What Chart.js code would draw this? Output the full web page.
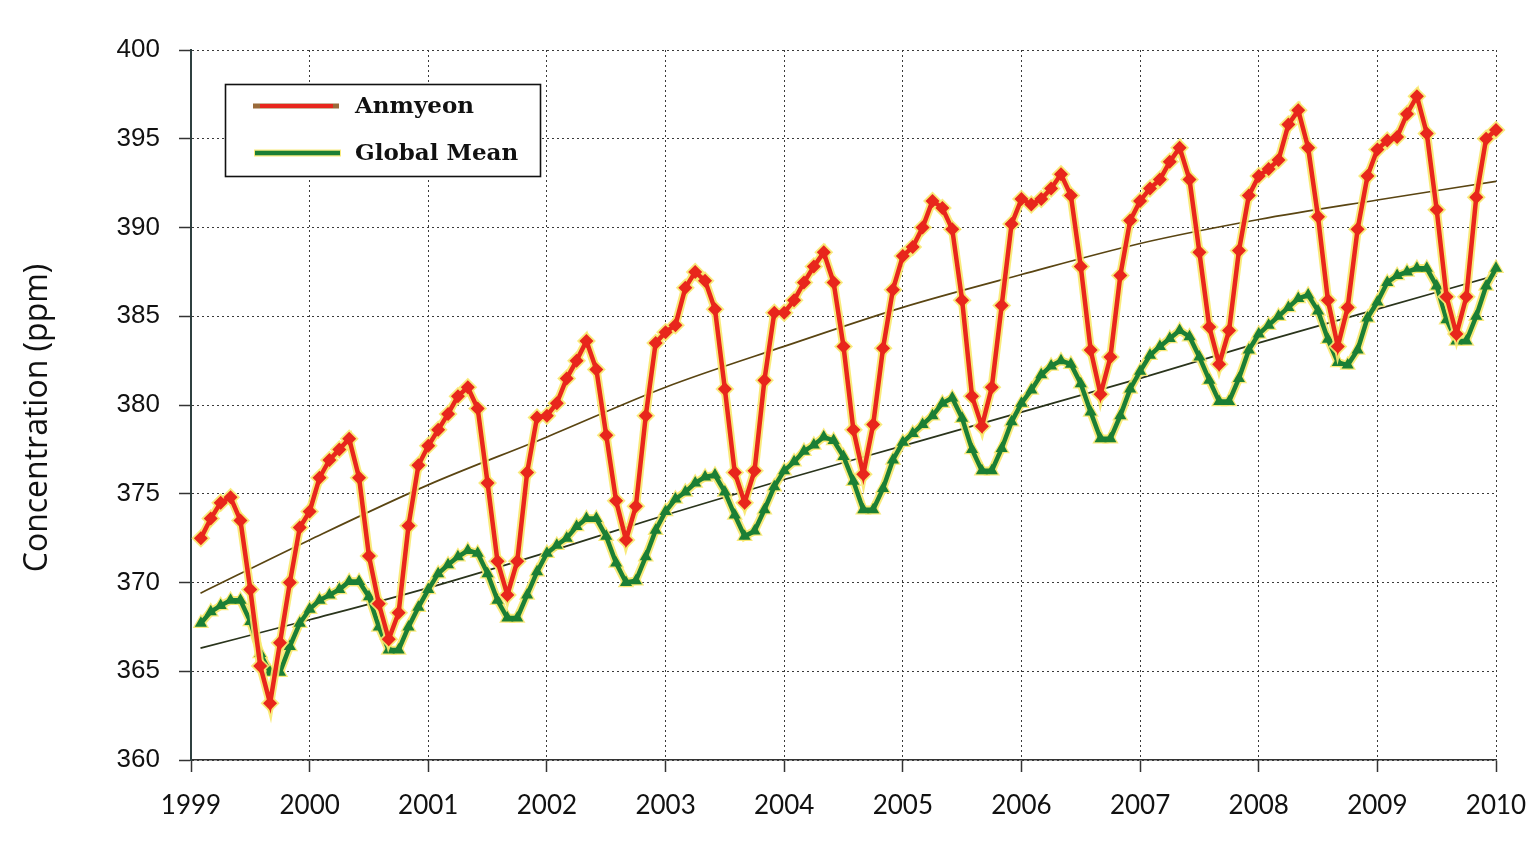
<!DOCTYPE html>
<html><head><meta charset="utf-8">
<script src="https://cdn.jsdelivr.net/npm/chart.js@4.4.1/dist/chart.umd.min.js"></script>
<style>html,body{margin:0;padding:0;background:#fff;overflow:hidden}#wrap{width:1531px;height:846px;position:relative}</style>
</head><body><div id="wrap"><canvas id="c" width="1531" height="846"></canvas></div>
<script>
// ---- data (monthly, Jan 1999 .. Dec 2009) ----
const startYear = 1999;
const yearTicks = [1999, 2000, 2001, 2002, 2003, 2004, 2005, 2006, 2007, 2008, 2009, 2010];
const seriesNames = ['Anmyeon', 'Global Mean'];
const yTitle = 'Concentration (ppm)';

const anmyeon = [
  372.5, 373.6, 374.5, 374.8, 373.5, 369.6, 365.3, 363.2, 366.6, 370.0, 373.1, 374.0,
  375.9, 376.9, 377.5, 378.1, 375.9, 371.5, 368.8, 366.8, 368.3, 373.2, 376.6, 377.7,
  378.6, 379.5, 380.5, 381.0, 379.8, 375.6, 371.2, 369.3, 371.2, 376.2, 379.3, 379.4,
  380.1, 381.5, 382.5, 383.6, 382.0, 378.3, 374.6, 372.4, 374.3, 379.4, 383.5, 384.1,
  384.5, 386.6, 387.5, 387.0, 385.4, 380.9, 376.2, 374.5, 376.3, 381.4, 385.2, 385.2,
  385.9, 386.9, 387.8, 388.6, 386.9, 383.3, 378.6, 376.1, 378.9, 383.2, 386.5, 388.4,
  388.9, 390.0, 391.5, 391.1, 389.9, 385.9, 380.5, 378.8, 381.0, 385.6, 390.2, 391.6,
  391.3, 391.6, 392.2, 393.0, 391.8, 387.8, 383.1, 380.6, 382.7, 387.3, 390.4, 391.5,
  392.2, 392.7, 393.7, 394.5, 392.7, 388.6, 384.4, 382.3, 384.2, 388.7, 391.8, 392.9,
  393.3, 393.8, 395.8, 396.6, 394.5, 390.6, 385.9, 383.3, 385.5, 389.9, 392.9, 394.4,
  394.9, 395.1, 396.4, 397.4, 395.3, 391.0, 386.1, 384.0, 386.1, 391.7, 395.0, 395.5
];
const globalMean = [
  367.7, 368.35, 368.7, 369.0, 369.0, 367.8, 366.0, 364.95, 364.95, 366.4, 367.7, 368.5,
  369.0, 369.3, 369.6, 370.05, 370.05, 369.2, 367.5, 366.2, 366.2, 367.5, 368.6, 369.6,
  370.5, 371.0, 371.45, 371.8, 371.65, 370.5, 369.0, 368.0, 368.0, 369.3, 370.6, 371.65,
  372.1, 372.5, 373.15, 373.6, 373.6, 372.6, 371.1, 370.0, 370.1, 371.45, 372.95, 374.0,
  374.7, 375.1, 375.6, 375.95, 376.05, 375.1, 373.8, 372.6, 372.9, 374.1, 375.4, 376.3,
  376.8, 377.4, 377.75, 378.2, 378.0, 377.1, 375.7, 374.1, 374.1, 375.3, 376.9, 377.9,
  378.4, 378.9, 379.4, 380.1, 380.4, 379.25, 377.5, 376.3, 376.3, 377.55, 379.05, 380.1,
  380.85, 381.7, 382.2, 382.5, 382.3, 381.2, 379.6, 378.1, 378.1, 379.4, 380.9, 381.9,
  382.8, 383.3, 383.75, 384.2, 383.85, 382.7, 381.4, 380.2, 380.2, 381.5, 383.1, 384.0,
  384.5, 385.0, 385.5, 386.0, 386.2, 385.3, 383.7, 382.4, 382.25, 383.1, 384.9, 385.8,
  386.9, 387.3, 387.5, 387.7, 387.7, 386.7, 384.8, 383.6, 383.6, 385.0, 386.7, 387.7
];
// trend curves read at yearly positions
const trendYears = [1999.08, 2000, 2001, 2002, 2003, 2004, 2005, 2006, 2007, 2008, 2009, 2010];
const anmyeonTrend = [369.4, 372.4, 375.5, 378.2, 381.0, 383.3, 385.5, 387.35, 389.1, 390.45, 391.55, 392.6];
const globalTrend  = [366.3, 367.9, 369.7, 371.7, 373.8, 375.8, 377.7, 379.6, 381.5, 383.5, 385.4, 387.3];

// ---- styles ----
const RED = '#e8261c', GREEN = '#1b7f35', HALO = 'rgba(248,232,110,0.9)';
const toXY = vals => vals.map((v, i) => ({x: startYear + (i + 1) / 12, y: v}));
const pairXY = (xs, ys) => xs.map((x, i) => ({x, y: ys[i]}));

const legendPlugin = {
  id: 'boxLegend',
  afterDraw(chart) {
    const c = chart.ctx;
    const names = [chart.data.datasets[0].label, chart.data.datasets[1].label];
    c.save();
    c.fillStyle = '#fff';
    c.fillRect(225, 84, 315, 92);
    c.strokeStyle = '#111'; c.lineWidth = 1.6;
    c.strokeRect(225.5, 84.5, 315, 92);
    c.lineCap = 'butt';
    c.strokeStyle = '#9a6a3a'; c.lineWidth = 5;
    c.beginPath(); c.moveTo(253, 106); c.lineTo(339, 106); c.stroke();
    c.strokeStyle = RED; c.lineWidth = 4;
    c.beginPath(); c.moveTo(260, 106); c.lineTo(333, 106); c.stroke();
    c.strokeStyle = HALO; c.lineWidth = 7;
    c.beginPath(); c.moveTo(254, 153); c.lineTo(341, 153); c.stroke();
    c.strokeStyle = GREEN; c.lineWidth = 4.5;
    c.beginPath(); c.moveTo(255, 153); c.lineTo(340, 153); c.stroke();
    c.fillStyle = '#111';
    c.font = 'bold 23px "DejaVu Serif"';
    c.textBaseline = 'alphabetic';
    c.fillText(names[0], 355, 113);
    c.fillText(names[1], 355, 160);
    // y axis title
    c.translate(38, 418);
    c.rotate(-Math.PI / 2);
    c.textAlign = 'center';
    c.textBaseline = 'middle';
    c.font = '32px "Open Sans"';
    c.fillText(yTitle, 0, 0);
    c.restore();
  }
};

new Chart(document.getElementById('c'), {
  type: 'line',
  data: {
    datasets: [
      {label: seriesNames[0], data: toXY(anmyeon), borderColor: RED, backgroundColor: RED,
       borderWidth: 4.5, pointStyle: 'rectRot', pointRadius: 7, pointBorderWidth: 0, order: 1, clip: false},
      {label: seriesNames[1], data: toXY(globalMean), borderColor: GREEN, backgroundColor: GREEN,
       borderWidth: 4.5, pointStyle: 'triangle', pointRadius: 7, pointBorderWidth: 0, order: 3, clip: false},
      {label: '_haloA', data: toXY(anmyeon), borderColor: HALO, backgroundColor: HALO,
       borderWidth: 8.5, pointStyle: 'rectRot', pointRadius: 9.5, pointBorderWidth: 0, order: 2, clip: false},
      {label: '_haloG', data: toXY(globalMean), borderColor: HALO, backgroundColor: HALO,
       borderWidth: 8.5, pointStyle: 'triangle', pointRadius: 9.5, pointBorderWidth: 0, order: 4, clip: false},
      {label: '_trendA', data: pairXY(trendYears, anmyeonTrend), borderColor: '#5a4512',
       borderWidth: 1.7, pointRadius: 0, cubicInterpolationMode: 'monotone', order: 5},
      {label: '_trendG', data: pairXY(trendYears, globalTrend), borderColor: '#2a341c',
       borderWidth: 1.7, pointRadius: 0, cubicInterpolationMode: 'monotone', order: 6}
    ]
  },
  options: {
    responsive: false,
    animation: false,
    events: [],
    layout: {padding: {top: 50, right: 35, left: 0, bottom: 0}},
    plugins: {legend: {display: false}, tooltip: {enabled: false}},
    scales: {
      x: {
        type: 'linear', min: 1999, max: 2010,
        afterFit: s => { s.height = 86; s.paddingLeft = 0; s.paddingRight = 0; },
        afterBuildTicks: s => { s.ticks = yearTicks.map(v => ({value: v})); },
        ticks: {callback: v => String(v), font: {family: 'Lato', size: 26}, color: '#111',
                padding: 18, maxRotation: 0, autoSkip: false},
        grid: {color: '#3a3a3a', lineWidth: 1, tickLength: 12, tickColor: '#333', tickWidth: 1.5},
        border: {display: true, color: '#333', width: 1.5, dash: [2, 3]}
      },
      y: {
        min: 360, max: 400,
        afterFit: s => { s.width = 191; s.paddingTop = 0; s.paddingBottom = 0; },
        ticks: {stepSize: 5, font: {family: '"Liberation Sans"', size: 26}, color: '#111', padding: 19},
        grid: {color: '#3a3a3a', lineWidth: 1, tickLength: 12, tickColor: '#333', tickWidth: 1.5},
        border: {display: true, color: '#2f4040', width: 2, dash: [2, 3]}
      }
    }
  },
  plugins: [legendPlugin]
});
</script>
</body></html>
